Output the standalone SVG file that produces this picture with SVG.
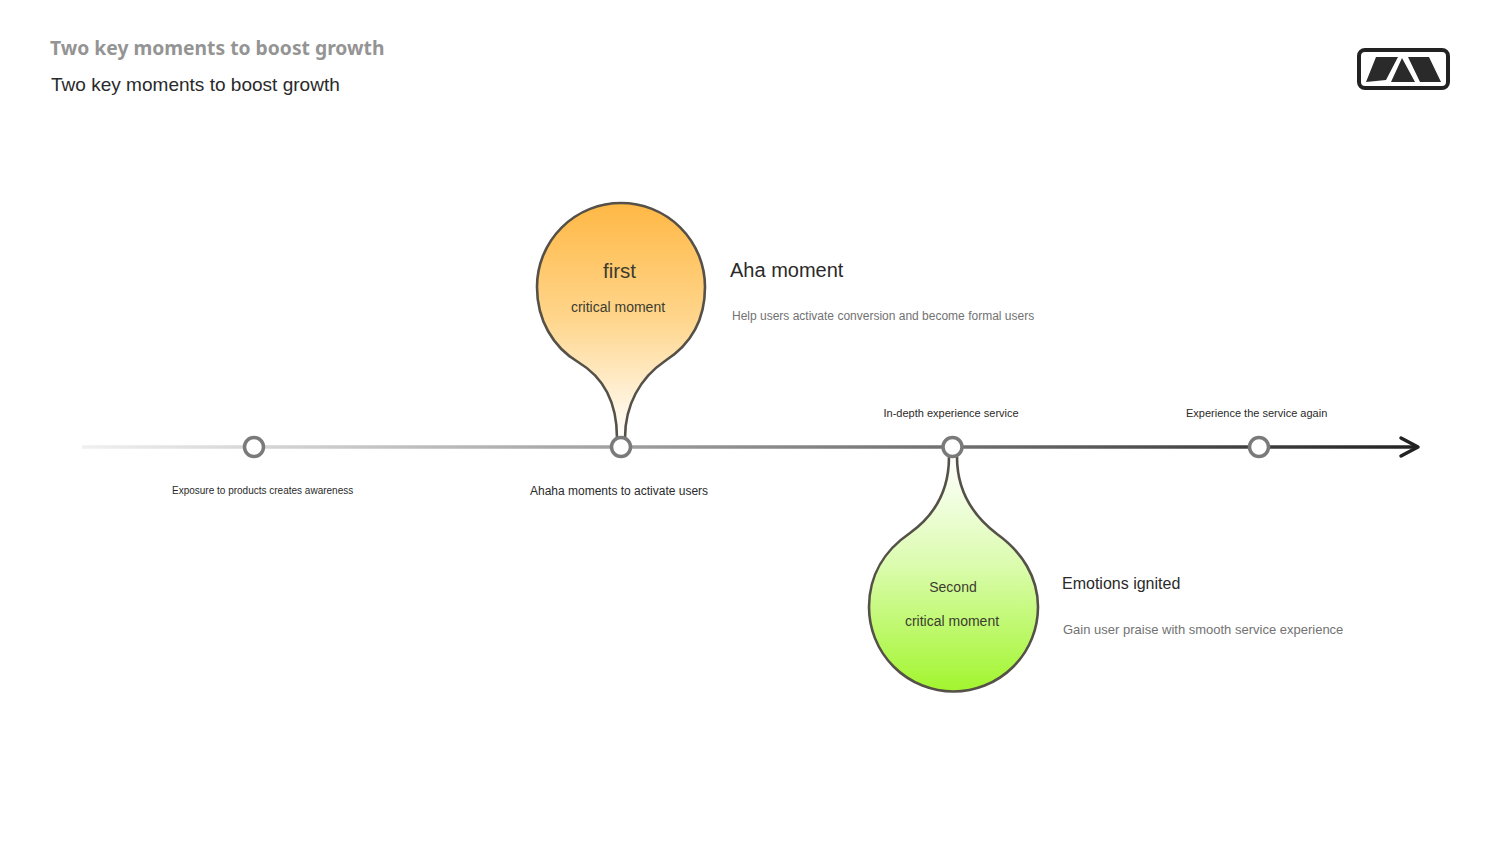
<svg xmlns="http://www.w3.org/2000/svg" width="1500" height="845" viewBox="0 0 1500 845">
<style>
text{font-family:"Liberation Sans",Arial,sans-serif;fill:#2a2a2a}
.title{font-family:"Noto Sans",sans-serif;font-weight:700;font-size:19.3px;fill:#949494}
.ring{fill:#fff;stroke:#7a7a7a;stroke-width:3.5}
.bubble{stroke:#555048;stroke-width:2.6}
.small{font-size:11px}
.desc{font-size:13px;fill:#727272}
.head{font-size:16px}
.mid{font-size:14px;fill:#3c3c30;text-anchor:middle}
</style>
<defs>
<linearGradient id="axis" gradientUnits="userSpaceOnUse" x1="82" y1="0" x2="1420" y2="0">
<stop offset="0" stop-color="#f0f0f0"/><stop offset="0.4" stop-color="#a0a0a0"/><stop offset="0.7" stop-color="#666"/><stop offset="1" stop-color="#222"/>
</linearGradient>
<linearGradient id="orange" x1="0" y1="0" x2="0" y2="1">
<stop offset="0" stop-color="#ffb845"/><stop offset="0.5" stop-color="#ffd68d"/><stop offset="1" stop-color="#ffffff"/>
</linearGradient>
<linearGradient id="green" x1="0" y1="0" x2="0" y2="1">
<stop offset="0" stop-color="#ffffff"/><stop offset="0.45" stop-color="#dcfcb0"/><stop offset="1" stop-color="#a2f52e"/>
</linearGradient>
</defs>
<g id="header">
<text class="title" x="50" y="55">Two key moments to boost growth</text>
<text x="51" y="91" font-size="19.050">Two key moments to boost growth</text>
</g>
<g id="logo">
<rect x="1359" y="50" width="89" height="38" rx="6" fill="#fff" stroke="#222" stroke-width="4"/>
<path d="M1376,57 H1398 L1386,80 L1366,82 Z M1402,58 L1415,82 H1391 Z M1408,57 H1429 L1441,82 H1420 Z" fill="#2a2a2a"/>
</g>
<g id="connectors">
<path d="M82,447 H1418" stroke="url(#axis)" stroke-width="3.5" fill="none"/>
<path d="M1401,438 L1418,447 L1401,456" stroke="#222" stroke-width="3.5" fill="none" stroke-linecap="round" stroke-linejoin="round"/>
</g>
<g id="bubble-first">
<path class="bubble" fill="url(#orange)" d="M617,438 C617,405 605,378 578,362 C553,347 537,320 537,287 A84,84 0 1 1 705,287 C705,320 690,345 665,361 C640,378 625,405 625,438"/>
<text x="619.500" y="278" font-size="20.500" text-anchor="middle" style="fill:#3c3c30">first</text>
<text class="mid" x="618" y="312">critical moment</text>
</g>
<g id="bubble-second">
<path class="bubble" fill="url(#green)" d="M949,457 C949,490 935,515 910,533 C885,550 869,575 869,607 A84.500,84.500 0 0 0 1038,607 C1038,577 1022,552 997,534 C972,515 957,490 957,457"/>
<text class="mid" x="953" y="592">Second</text>
<text class="mid" x="952" y="626">critical moment</text>
</g>
<g id="node-1"><circle class="ring" cx="254" cy="447" r="9.500"/><text x="172" y="494" font-size="10">Exposure to products creates awareness</text></g>
<g id="node-2"><circle class="ring" cx="621" cy="447" r="9.500"/><text x="530" y="495" font-size="12">Ahaha moments to activate users</text></g>
<g id="node-3"><circle class="ring" cx="952.500" cy="447" r="9.500"/><text class="small" x="883.500" y="417">In-depth experience service</text></g>
<g id="node-4"><circle class="ring" cx="1259" cy="447" r="9.500"/><text class="small" x="1186" y="417">Experience the service again</text></g>
<g id="note-aha">
<text x="730" y="277" font-size="20">Aha moment</text>
<text x="732" y="320" font-size="12" style="fill:#727272">Help users activate conversion and become formal users</text>
</g>
<g id="note-emotions">
<text class="head" x="1062" y="589">Emotions ignited</text>
<text class="desc" x="1063" y="634">Gain user praise with smooth service experience</text>
</g>
</svg>
